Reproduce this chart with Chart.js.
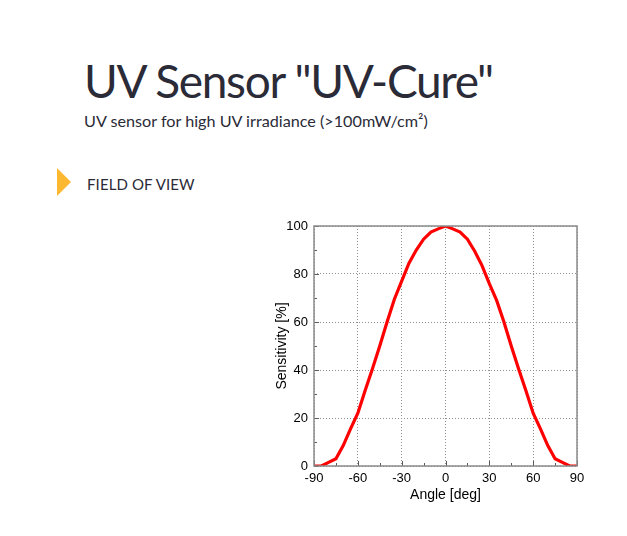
<!DOCTYPE html>
<html>
<head>
<meta charset="utf-8">
<script src="https://cdn.jsdelivr.net/npm/chart.js@4.4.0/dist/chart.umd.min.js"></script>
<style>
  html, body { margin: 0; padding: 0; background: #fff; width: 627px; height: 536px; overflow: hidden; }
  body { position: relative; font-family: Lato, 'Noto Sans', sans-serif; color: #2b2b38; }
  h1 { position: absolute; left: 84px; top: 54px; margin: 0; font-weight: 400; font-size: 46px; line-height: 54px; letter-spacing: -1.3px; }
  .sub { position: absolute; left: 84px; top: 111px; font-size: 16.2px; line-height: 20px; }
  .arrow { position: absolute; left: 57px; top: 168px; width: 0; height: 0;
           border-top: 14.5px solid transparent; border-bottom: 14.5px solid transparent; border-left: 14px solid #fbb830; }
  .sect { position: absolute; left: 87px; top: 174px; font-size: 15px; line-height: 20px; letter-spacing: 0.1px; }
  #wrap { position: absolute; left: 270px; top: 200px; width: 320px; height: 308px; }
</style>
</head>
<body>
<h1>UV Sensor "UV-Cure"</h1>
<div class="sub">UV sensor for high UV irradiance (&gt;100mW/cm²)</div>
<div class="arrow"></div>
<div class="sect">FIELD OF VIEW</div>
<div id="wrap"><canvas id="fov"></canvas></div>

<script>
/* ── Data ─────────────────────────────────── */
const angles      = [-90, -85, -80, -75, -70, -65, -60, -55, -50, -45, -40, -35, -30, -25, -20, -15, -10, -5,
                     0, 5, 10, 15, 20, 25, 30, 35, 40, 45, 50, 55, 60, 65, 70, 75, 80, 85, 90];
const sensitivity = [0, 0, 1.5, 3, 8.5, 15.5, 22, 31.5, 40.5, 50, 60, 69.5, 77, 84.5, 90, 94.5, 97.5, 98.8,
                     100, 98.8, 97.5, 94.5, 89.5, 83.5, 76, 69, 60, 50, 40.5, 31.5, 22, 15.5, 8.5, 3, 1.5, 0, 0];
const xTicks = [-90, -60, -30, 0, 30, 60, 90];
const yTicks = [0, 20, 40, 60, 80, 100];

const AXIS_GREY  = '#8a8a8a';
const LABEL_FONT = { family: 'Arial, "Liberation Sans"', size: 13 };
const TITLE_FONT = { family: 'Arial, "Liberation Sans"', size: 14 };

/* ── Frame + inside tick marks ────────────── */
const framePlugin = {
  id: 'frame',
  afterDraw(chart) {
    const { ctx, chartArea: a, scales: { x, y } } = chart;
    ctx.save();
    ctx.strokeStyle = '#5a5a5a';
    ctx.lineWidth = 1;
    ctx.beginPath();
    // major + minor ticks on x (every 15 deg)
    for (let v = -90; v <= 90; v += 15) {
      const px = Math.round(x.getPixelForValue(v)) + 0.5;
      const len = v % 30 === 0 ? 5 : 3;
      ctx.moveTo(px, a.bottom); ctx.lineTo(px, a.bottom - len);
    }
    // major + minor ticks on y (every 10 %)
    for (let v = 0; v <= 100; v += 10) {
      const py = Math.round(y.getPixelForValue(v)) + 0.5;
      const len = v % 20 === 0 ? 5 : 3;
      ctx.moveTo(a.left, py); ctx.lineTo(a.left + len, py);
    }
    ctx.stroke();
    ctx.strokeStyle = AXIS_GREY;
    ctx.lineWidth = 1.5;
    ctx.strokeRect(a.left, a.top, a.right - a.left, a.bottom - a.top);
    ctx.restore();
  }
};

new Chart(document.getElementById('fov'), {
  type: 'line',
  data: {
    datasets: [{
      data: angles.map((a, i) => ({ x: a, y: sensitivity[i] })),
      borderColor: '#ff0000',
      borderWidth: 3.2,
      pointRadius: 0,
      tension: 0,
      fill: false,
    }],
  },
  options: {
    responsive: true, maintainAspectRatio: false, animation: false,
    layout: { padding: { top: 26, right: 13, left: 0, bottom: 0 } },
    plugins: { legend: { display: false }, tooltip: { enabled: false } },
    scales: {
      x: {
        type: 'linear', min: -90, max: 90,
        afterBuildTicks: s => { s.ticks = xTicks.map(v => ({ value: v })); },
        afterFit: s => { s.height = 42; },
        grid: { color: '#8f8f8f', lineWidth: 1, drawTicks: false },
        border: { display: false, dash: [1, 2] },
        ticks: { color: '#000', padding: 5, maxRotation: 0, font: LABEL_FONT },
        title: { display: true, text: 'Angle [deg]', color: '#000', padding: { top: 0, bottom: 4 }, font: TITLE_FONT },
      },
      y: {
        min: 0, max: 100,
        afterBuildTicks: s => { s.ticks = yTicks.map(v => ({ value: v })); },
        afterFit: s => { s.width = 44; },
        grid: { color: '#8f8f8f', lineWidth: 1, drawTicks: false },
        border: { display: false, dash: [1, 2] },
        ticks: { color: '#000', padding: 6, font: LABEL_FONT },
        title: { display: true, text: 'Sensitivity [%]', color: '#000', padding: { top: 4, bottom: 0 }, font: TITLE_FONT },
      },
    },
  },
  plugins: [framePlugin],
});
</script>
</body>
</html>
